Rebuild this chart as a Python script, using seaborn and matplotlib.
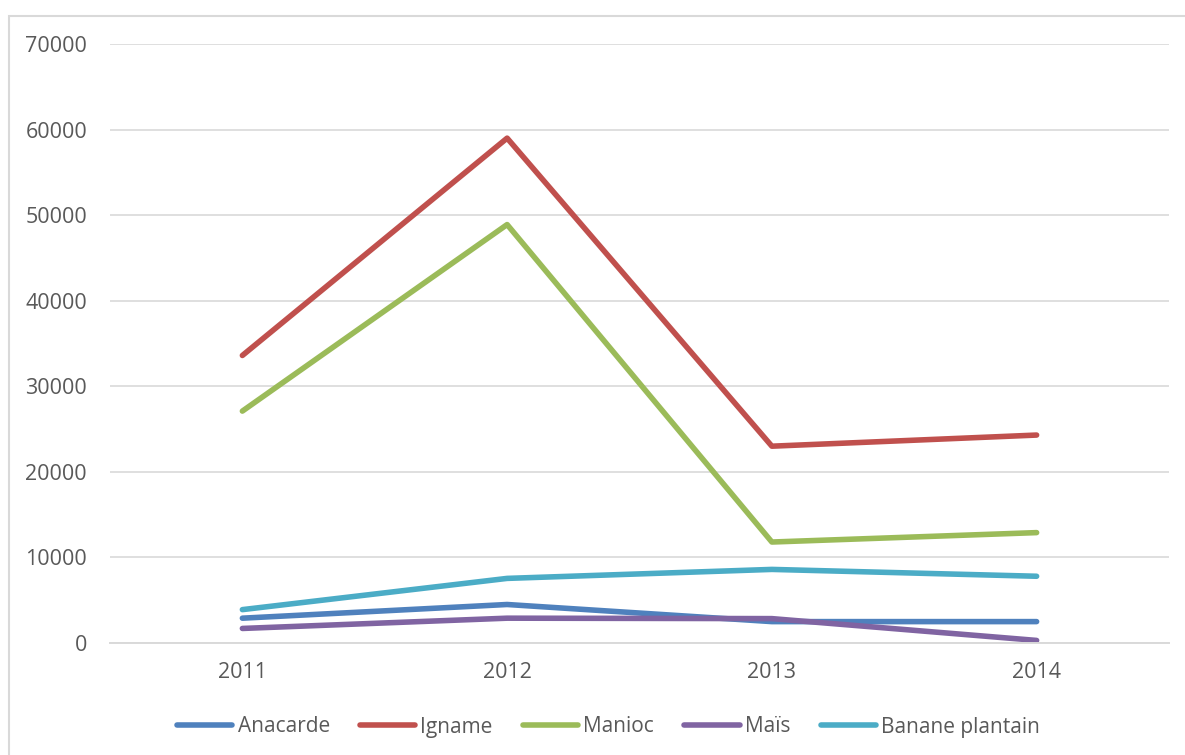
import matplotlib
matplotlib.use("Agg")
import matplotlib.pyplot as plt
import seaborn as sns
import pandas as pd
from matplotlib.patches import Rectangle

years = ["2011", "2012", "2013", "2014"]
anacarde = [2900, 4500, 2500, 2500]
igname = [33600, 59000, 23000, 24300]
manioc = [27100, 48900, 11800, 12900]
mais = [1700, 2900, 2850, 300]
banane = [3900, 7550, 8600, 7800]

series = ["Anacarde", "Igname", "Manioc", "Maïs", "Banane plantain"]
colors = ["#4F81BD", "#C0504D", "#9BBB59", "#8064A2", "#4BACC6"]

df = pd.DataFrame({
    "Année": years * 5,
    "Culture": sum([[s] * 4 for s in series], []),
    "Valeur": anacarde + igname + manioc + mais + banane,
})

sns.set_theme(style="white")
plt.rcParams["font.family"] = ["Open Sans", "DejaVu Sans"]

fig = plt.figure(figsize=(11.85, 7.55), dpi=100)
ax = fig.add_axes([110 / 1185, 1 - 643 / 755, 1059 / 1185, 599 / 755])

sns.lineplot(data=df, x="Année", y="Valeur", hue="Culture", hue_order=series,
             palette=colors, linewidth=4.0, ax=ax, legend=False,
             solid_capstyle="round", sort=False)

ax.set_xlim(-0.5, 3.5)
ax.set_ylim(0, 70000)
ax.set_yticks(range(0, 70001, 10000))
ax.yaxis.grid(True, color="#D9D9D9", linewidth=1.2)
ax.set_axisbelow(True)
for s in ["top", "right", "left"]:
    ax.spines[s].set_visible(False)
ax.spines["bottom"].set_color("#D9D9D9")
ax.spines["bottom"].set_linewidth(1.4)
ax.set_xlabel("")
ax.set_ylabel("")
ax.tick_params(axis="both", length=0, labelsize=15.5, labelcolor="#595959")
ax.tick_params(axis="y", pad=16.5)
ax.tick_params(axis="x", pad=14)

handles = [plt.Line2D([0], [0], color=c, linewidth=4.0, solid_capstyle="round")
           for c in colors]
fig.legend(handles, series, loc="center", bbox_to_anchor=(0.5135, 1 - 727 / 755),
           ncol=5, frameon=False, fontsize=15, labelcolor="#595959",
           handlelength=2.65, handletextpad=0.25, columnspacing=1.45)

fig.patches.append(Rectangle((9 / 1185, -0.1), 1.2, 1 - 16 / 755 + 0.1,
                             transform=fig.transFigure, fill=False,
                             edgecolor="#D9D9D9", linewidth=1.5))

fig.savefig("out.png", dpi=100)
